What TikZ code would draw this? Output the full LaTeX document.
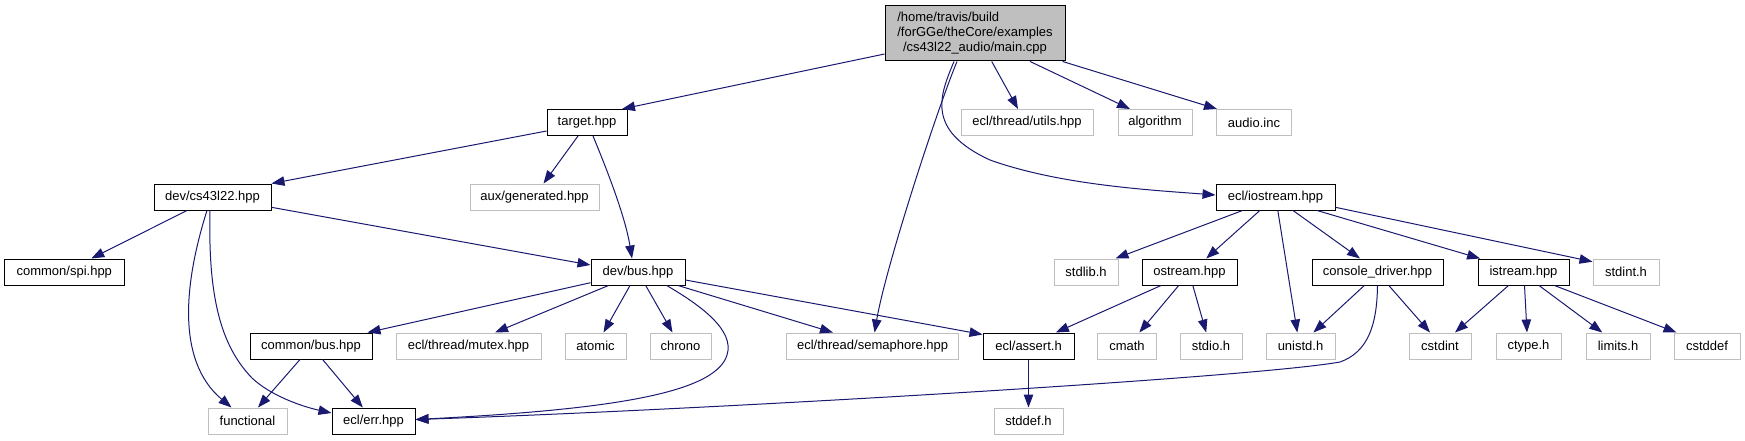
\documentclass[tikz,border=0pt]{standalone}
\usepackage{fontspec}
\setmainfont{Liberation Sans}
\usetikzlibrary{arrows.meta}
\definecolor{edgeblue}{HTML}{191970}
\definecolor{greyS}{HTML}{BFBFBF}
\newlength\rootw
\begin{document}
\begin{tikzpicture}[x=1pt,y=-1pt,
  font=\fontsize{13}{15}\selectfont,
  box/.style={rectangle, inner sep=0pt, minimum height=26pt, line width=1pt},
  dk/.style={box, draw=black, fill=white, minimum width=#1pt},
  lt/.style={box, draw=greyS, fill=white, minimum width=#1pt},
  rt/.style={box, draw=black, fill=greyS, minimum width=180pt, minimum height=55.3pt, align=center},
  dep/.style={draw=edgeblue, line width=1pt, -{Triangle[length=13pt,width=9.5pt]}}]
\useasboundingbox (0,0) rectangle (1745,440);
% row 0
\node[rt] (main) at (975,33.3) {\settowidth{\rootw}{/forGGe/theCore/examples}\makebox[\rootw][l]{/home/travis/build}\\/forGGe/theCore/examples\\/cs43l22\_audio/main.cpp};
% row 1
\node[dk=80] (target) at (587,122.5) {target.hpp};
\node[lt=132] (utils) at (1027,122.5) {ecl/thread/utils.hpp};
\node[lt=74] (algorithm) at (1155,122.5) {algorithm};
\node[lt=75] (audio) at (1254,122.5) {audio.inc};
% row 2
\node[dk=117] (cs) at (212.5,197) {dev/cs43l22.hpp};
\node[lt=129] (aux) at (534.5,197) {aux/generated.hpp};
\node[dk=119] (iostream) at (1275.5,197) {ecl/iostream.hpp};
% row 3
\node[dk=119.5] (spi) at (64.3,272) {common/spi.hpp};
\node[dk=94] (bus) at (638,272) {dev/bus.hpp};
\node[lt=64] (stdlib) at (1086,272) {stdlib.h};
\node[dk=95] (ostream) at (1189.5,272) {ostream.hpp};
\node[dk=131] (console) at (1377.5,272) {console\_driver.hpp};
\node[dk=91] (istream) at (1523.5,272) {istream.hpp};
\node[lt=66] (stdint) at (1626,272) {stdint.h};
% row 4
\node[dk=122] (cbus) at (311,346) {common/bus.hpp};
\node[lt=145] (mutex) at (468.5,346) {ecl/thread/mutex.hpp};
\node[lt=61] (atomic) at (595.5,346) {atomic};
\node[lt=61] (chrono) at (680.5,346) {chrono};
\node[lt=172] (semaphore) at (872.6,346) {ecl/thread/semaphore.hpp};
\node[dk=91] (assert) at (1028.5,346) {ecl/assert.h};
\node[lt=58.5] (cmath) at (1127,346) {cmath};
\node[lt=62] (stdio) at (1211,346) {stdio.h};
\node[lt=69] (unistd) at (1300.5,346) {unistd.h};
\node[lt=62] (cstdint) at (1440,346) {cstdint};
\node[lt=65] (ctype) at (1528.5,346) {ctype.h};
\node[lt=64] (limits) at (1618,346) {limits.h};
\node[lt=66] (cstddef) at (1707,346) {cstddef};
% row 5
\node[lt=79] (functional) at (247.5,421) {functional};
\node[dk=83] (err) at (373.5,421) {ecl/err.hpp};
\node[lt=69] (stddef) at (1028.5,421) {stddef.h};
% edges from main
\draw[dep] ([yshift=-20.7pt]main.west) -- ([xshift=35pt]target.north);
\draw[dep] ([xshift=-18pt]main.south) .. controls (935,115) and (885,270) .. ([xshift=2pt]semaphore.north);
\draw[dep] ([xshift=-21pt]main.south) .. controls (940,95) and (925,130) .. (990,160) .. controls (1060,185) and (1150,190) .. ([yshift=2pt]iostream.west);
\draw[dep] ([xshift=16.7pt]main.south) -- ([xshift=-9pt]utils.north);
\draw[dep] ([xshift=55pt]main.south) -- ([xshift=-25pt]algorithm.north);
\draw[dep] ([xshift=-3pt]main.south east) -- ([xshift=1pt]audio.north west);
% target
\draw[dep] ([yshift=-8.5pt]target.west) -- (cs.north east);
\draw[dep] ([xshift=-9pt]target.south) -- ([xshift=9pt]aux.north);
\draw[dep] ([xshift=6pt]target.south) .. controls (605,165) and (625,215) .. ([xshift=-6pt]bus.north);
% cs43l22
\draw[dep] ([xshift=-25.5pt]cs.south) -- ([xshift=27pt]spi.north);
\draw[dep] ([yshift=-10.3pt]cs.east) -- ([yshift=7pt]bus.west);
\draw[dep] ([xshift=-5.5pt]cs.south) .. controls (185,280) and (175,360) .. ([xshift=-16pt]functional.north);
\draw[dep] ([xshift=-2.5pt]cs.south) .. controls (208,295) and (220,345) .. (252,378) .. controls (270,395) and (300,406) .. ([yshift=8pt]err.west);
% bus
\draw[dep] ([yshift=-10.7pt]bus.west) -- ([xshift=-5pt]cbus.north east);
\draw[dep] ([xshift=-29.5pt]bus.south) -- ([xshift=26.5pt]mutex.north);
\draw[dep] ([xshift=-8pt]bus.south) -- ([xshift=8pt]atomic.north);
\draw[dep] ([xshift=7.7pt]bus.south) -- ([xshift=-8pt]chrono.north);
\draw[dep] ([xshift=28.7pt]bus.south) .. controls (700,305) and (735,330) .. (727,355) .. controls (715,395) and (600,410) .. ([yshift=1.5pt]err.east);
\draw[dep] ([xshift=40pt]bus.south) -- ([xshift=-39.6pt]semaphore.north);
\draw[dep] ([yshift=-8pt]bus.east) -- ([yshift=-2pt]assert.north west);
% common/bus
\draw[dep] ([xshift=-11pt]cbus.south) -- ([xshift=10.5pt]functional.north);
\draw[dep] ([xshift=11.6pt]cbus.south) -- ([xshift=-10.7pt]err.north);
% assert
\draw[dep] (assert.south) -- (stddef.north);
% iostream
\draw[dep] ([xshift=-33pt]iostream.south) -- ([xshift=-3pt]stdlib.north east);
\draw[dep] ([xshift=-15.7pt]iostream.south) -- ([xshift=16.7pt]ostream.north);
\draw[dep] ([xshift=2.3pt]iostream.south) -- ([xshift=-3.2pt]unistd.north);
\draw[dep] ([xshift=17.5pt]iostream.south) -- ([xshift=-17.5pt]console.north);
\draw[dep] ([xshift=41.5pt]iostream.south) -- ([xshift=2.6pt]istream.north west);
\draw[dep] ([yshift=-10.3pt]iostream.east) -- ([yshift=10.3pt]stdint.west);
% ostream
\draw[dep] ([xshift=-28.5pt]ostream.south) -- ([xshift=27.4pt]assert.north);
\draw[dep] ([xshift=-10.8pt]ostream.south) -- ([xshift=12.3pt]cmath.north);
\draw[dep] ([xshift=3.3pt]ostream.south) -- ([xshift=-4.8pt]stdio.north);
% console driver
\draw[dep] ([xshift=-13.2pt]console.south) -- ([xshift=12.9pt]unistd.north);
\draw[dep] ([xshift=11.3pt]console.south) -- ([xshift=-10pt]cstdint.north);
\draw[dep] (console.south) .. controls (1377,325) and (1368,352) .. (1340,362) .. controls (1250,378) and (700,410) .. ([yshift=1.5pt]err.east);
% istream
\draw[dep] ([xshift=-15pt]istream.south) -- ([xshift=15pt]cstdint.north);
\draw[dep] ([xshift=1pt]istream.south) -- ([xshift=-1.5pt]ctype.north);
\draw[dep] ([xshift=15.5pt]istream.south) -- ([xshift=-15.7pt]limits.north);
\draw[dep] ([xshift=31pt]istream.south) -- ([xshift=3pt]cstddef.north west);
\end{tikzpicture}
\end{document}
